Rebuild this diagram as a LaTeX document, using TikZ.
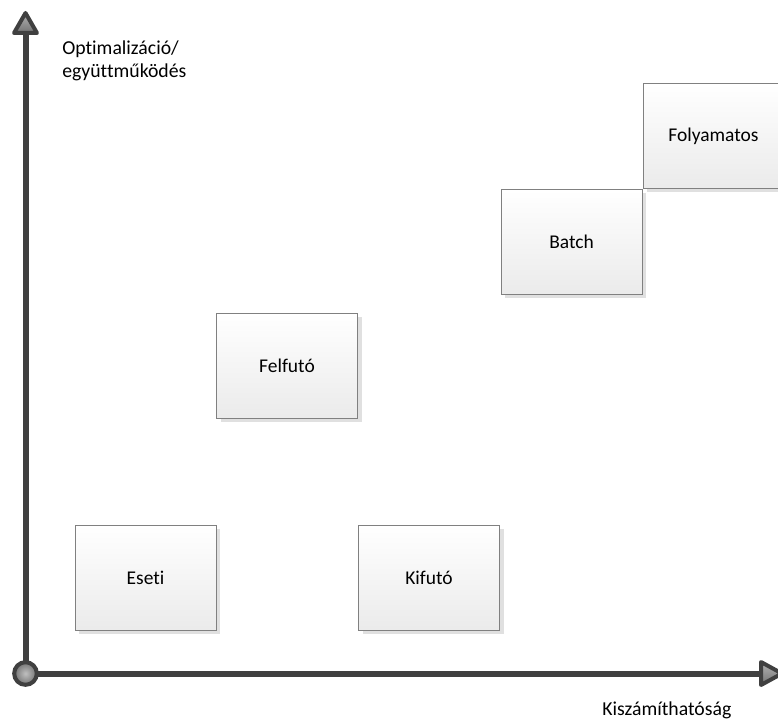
\documentclass[tikz,border=0pt]{standalone}
\usepackage{fontspec}
\setmainfont{Carlito}[Ligatures=NoCommon]
\usetikzlibrary{shadows,positioning}
\tikzset{
  stage/.style={draw=black!50, line width=0.75pt, top color=white, bottom color=black!8,
    minimum width=105.75pt, minimum height=78.75pt, inner sep=0pt,
    font=\fontsize{14.6}{17.5}\selectfont,
    drop shadow={shadow xshift=3pt, shadow yshift=-3pt, fill=black!12, opacity=1}},
  axis/.style={draw=black!75, line width=4.5pt},
  tipshade/.style={draw=black!75, line width=3pt, line join=round, top color=black!30, bottom color=black!55},
  label/.style={font=\fontsize{14.8}{17.5}\selectfont, inner sep=0pt}
}
\begin{document}
\begin{tikzpicture}[x=0.75pt,y=-0.75pt]
\path[use as bounding box, clip] (0,0) rectangle (778,720);
% axes
\coordinate (o) at (25.5,673.5);
\coordinate (ytop) at (25.5,33);
\coordinate (xend) at (761,673.5);
\draw[axis] (o)--(ytop);
\draw[axis] (o)--(xend);
\shade[tipshade] (25.5,13)--(14,33)--(37,33)--cycle;
\shade[tipshade] (761,662)--(782,673.5)--(761,685)--cycle;
\shade[draw=black!75, line width=3pt, inner color=black!25, outer color=black!55] (o) circle[radius=8.5pt];
\node[label, anchor=base west, align=left] (ylabel) at (62,78) {Optimalizáció/\\együttműködés};
\node[label, anchor=base west] (xlabel) at (602,715) {Kiszámíthatóság};
% stages
\node[stage] (eseti) at (145.5,577.5) {Eseti};
\node[stage] (kifuto) at (429,577.5) {Kifutó};
\node[stage] (felfuto) at (287,365.5) {Felfutó};
\node[stage] (batch) at (571.5,242) {Batch};
\node[stage, anchor=south west] (folyamatos) at (batch.north east) {Folyamatos};
\end{tikzpicture}
\end{document}
